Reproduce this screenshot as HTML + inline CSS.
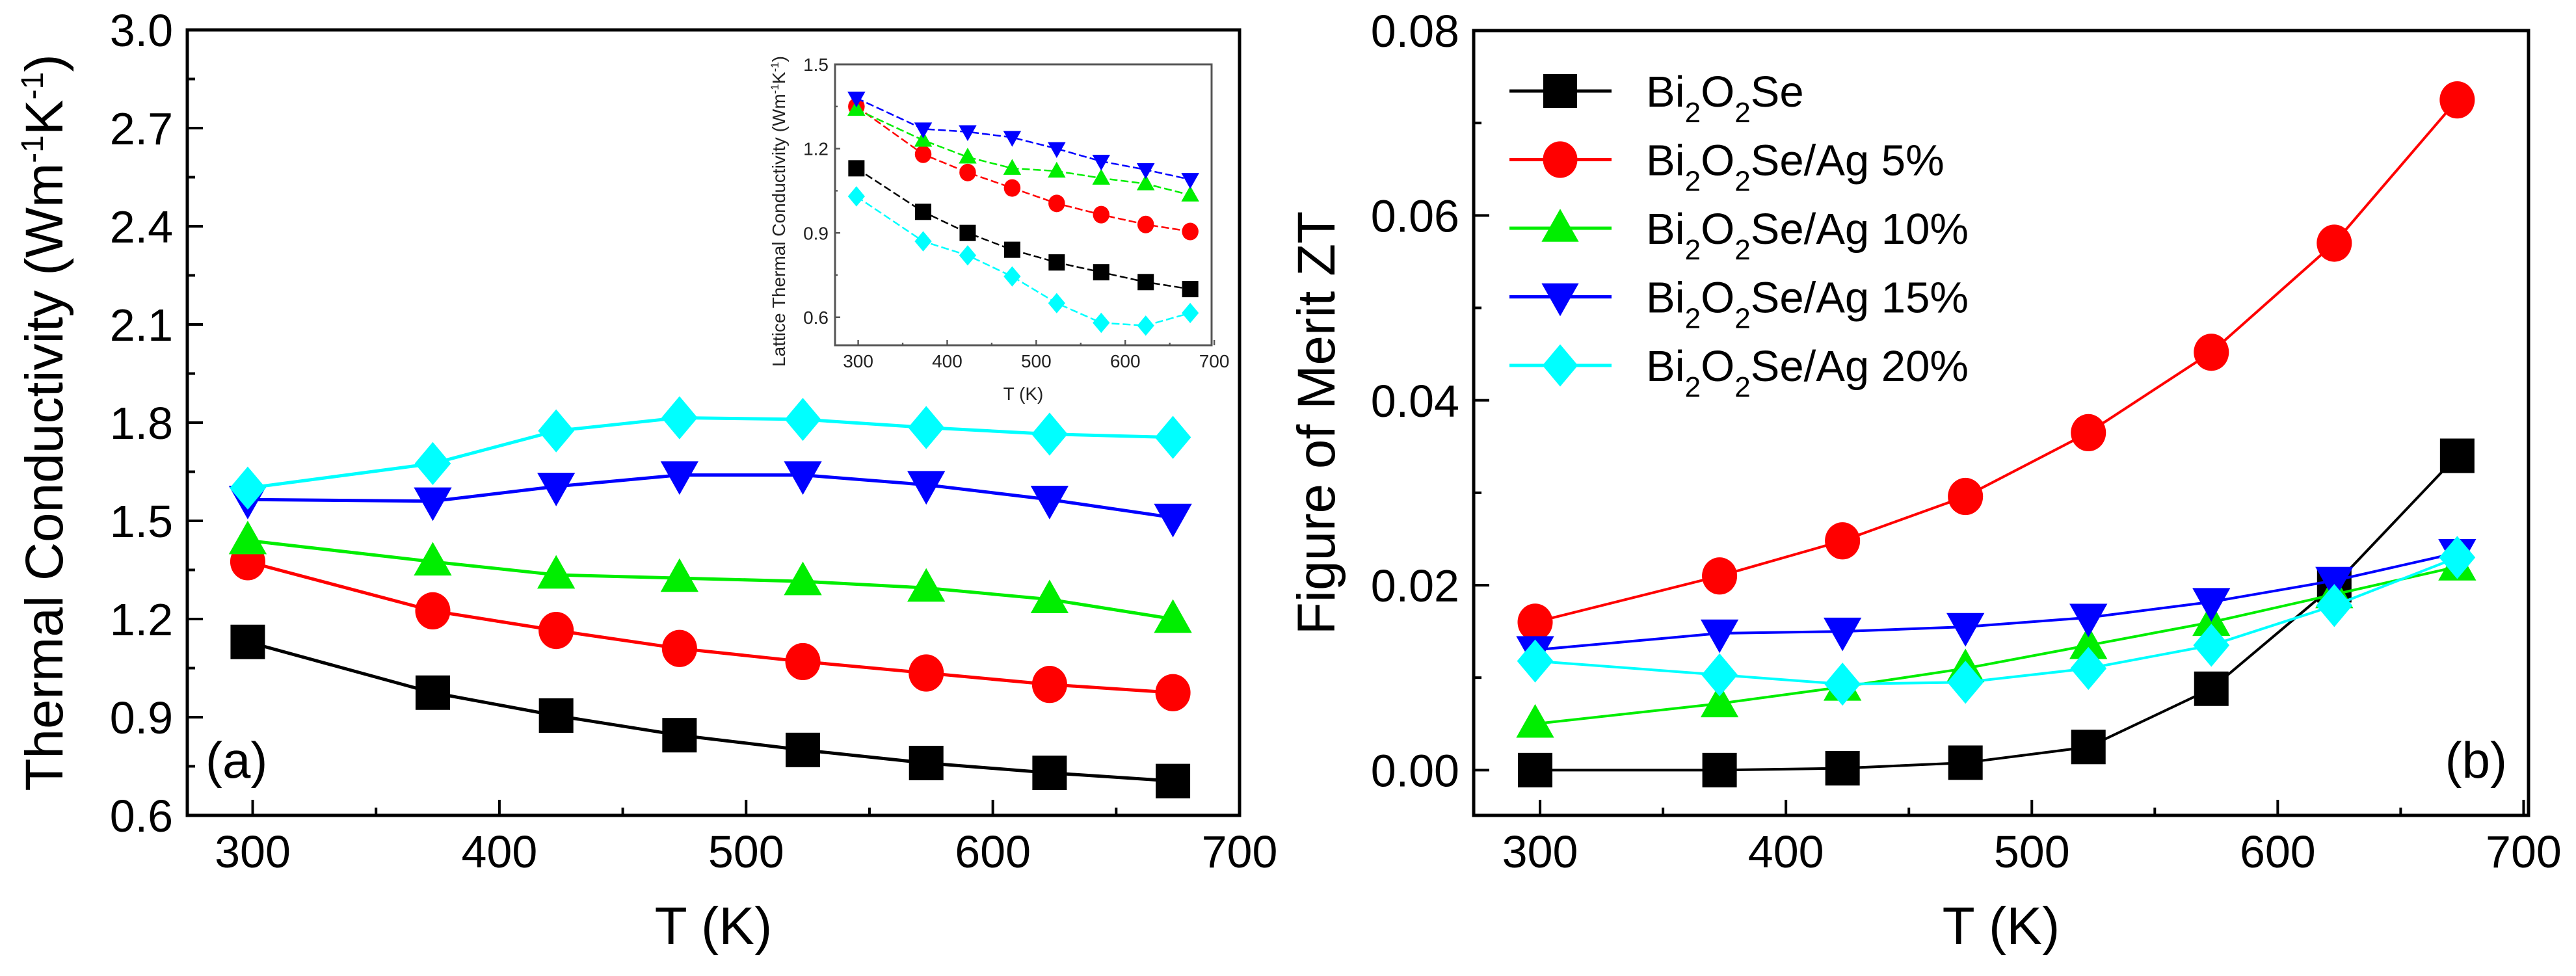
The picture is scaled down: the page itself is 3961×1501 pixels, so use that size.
<!DOCTYPE html>
<html><head><meta charset="utf-8"><style>
html,body{margin:0;padding:0;background:#fff;}
svg{display:block;font-family:"Liberation Sans",Arial,sans-serif;}
</style></head><body>
<svg id="fig" width="3961" height="1501" viewBox="0 0 3961 1501" xmlns="http://www.w3.org/2000/svg">
<g id="pa"></g>
<g id="pin"></g>
<g id="pb"></g>
</svg>
<script>
const temps = [298, 373, 423, 473, 523, 573, 623, 673];
const seriesNames = ["Bi2O2Se", "Bi2O2Se/Ag 5%", "Bi2O2Se/Ag 10%", "Bi2O2Se/Ag 15%", "Bi2O2Se/Ag 20%"];
const kappaBi = [1.13, 0.975, 0.905, 0.845, 0.80, 0.76, 0.73, 0.705];
const kappaAg5 = [1.375, 1.225, 1.165, 1.11, 1.07, 1.035, 1.0, 0.975];
const kappaAg10 = [1.44, 1.375, 1.335, 1.325, 1.315, 1.295, 1.26, 1.20];
const kappaAg15 = [1.565, 1.56, 1.605, 1.64, 1.64, 1.61, 1.565, 1.51];
const kappaAg20 = [1.60, 1.675, 1.775, 1.815, 1.81, 1.785, 1.765, 1.755];
const latBi = [1.13, 0.975, 0.90, 0.84, 0.795, 0.76, 0.725, 0.70];
const latAg5 = [1.35, 1.18, 1.115, 1.06, 1.005, 0.965, 0.93, 0.905];
const latAg10 = [1.34, 1.23, 1.17, 1.13, 1.12, 1.095, 1.075, 1.035];
const latAg15 = [1.38, 1.27, 1.26, 1.24, 1.20, 1.155, 1.125, 1.09];
const latAg20 = [1.03, 0.87, 0.82, 0.745, 0.65, 0.58, 0.57, 0.615];
const ztBi = [0, 0, 0.0002, 0.0008, 0.0025, 0.0088, 0.020, 0.034];
const ztAg5 = [0.016, 0.021, 0.0248, 0.0296, 0.0365, 0.0452, 0.057, 0.0725];
const ztAg10 = [0.005, 0.0072, 0.009, 0.011, 0.0135, 0.016, 0.019, 0.022];
const ztAg15 = [0.013, 0.0148, 0.015, 0.0155, 0.0165, 0.0182, 0.0205, 0.0235];
const ztAg20 = [0.0118, 0.0103, 0.0093, 0.0095, 0.011, 0.0135, 0.0178, 0.023];
const xTicks = [300, 400, 500, 600, 700];
const kappaTicks = [0.6, 0.9, 1.2, 1.5, 1.8, 2.1, 2.4, 2.7, 3.0];
const latTicks = [0.6, 0.9, 1.2, 1.5];
const ztTicks = [0.00, 0.02, 0.04, 0.06, 0.08];

const colors = ["#000000", "#ff0000", "#00ee00", "#0000ff", "#00ffff"];
const shapes = ["square", "circle", "up", "down", "diamond"];
const NS = "http://www.w3.org/2000/svg";

function mk(parent, tag, attrs, text) {
  const e = document.createElementNS(NS, tag);
  for (const k in attrs) e.setAttribute(k, attrs[k]);
  if (text !== undefined) e.textContent = text;
  parent.appendChild(e);
  return e;
}
function scale(d0, d1, r0, r1) { return v => r0 + (v - d0) * (r1 - r0) / (d1 - d0); }

function marker(g, shape, cx, cy, s, color) {
  const h = s / 2;
  let e;
  if (shape === "square") e = mk(g, "rect", {x: cx - h, y: cy - h, width: s, height: s, fill: color});
  else if (shape === "circle") e = mk(g, "ellipse", {cx: cx, cy: cy, rx: h * 1.02, ry: h * 1.08, fill: color});
  else if (shape === "up") e = mk(g, "polygon", {points: `${cx},${cy - h * 1.15} ${cx + h * 1.1},${cy + h * 0.8} ${cx - h * 1.1},${cy + h * 0.8}`, fill: color});
  else if (shape === "down") e = mk(g, "polygon", {points: `${cx},${cy + h * 1.15} ${cx + h * 1.1},${cy - h * 0.8} ${cx - h * 1.1},${cy - h * 0.8}`, fill: color});
  else e = mk(g, "polygon", {points: `${cx},${cy - h * 1.25} ${cx + h * 1.05},${cy} ${cx},${cy + h * 1.25} ${cx - h * 1.05},${cy}`, fill: color});
  return e;
}

function drawPanel(g, cfg) {
  const xs = scale(cfg.xd[0], cfg.xd[1], cfg.L, cfg.R);
  const ys = scale(cfg.yd[0], cfg.yd[1], cfg.B, cfg.T);
  cfg.series.forEach((vals, si) => {
    const sg = mk(g, "g", {});
    
    
    const pts = temps.map((t, i) => `${xs(t)},${ys(vals[i])}`).join(" ");
    const attrs = {points: pts, fill: "none", stroke: colors[si], "stroke-width": cfg.lw};
    if (cfg.dash) attrs["stroke-dasharray"] = cfg.dash;
    mk(sg, "polyline", attrs);
    temps.forEach((t, i) => {
      const m = marker(sg, shapes[si], xs(t), ys(vals[i]), cfg.ms, colors[si]);
      
      
    });
  });
  const fr = mk(g, "rect", {x: cfg.L, y: cfg.T, width: cfg.R - cfg.L, height: cfg.B - cfg.T, fill: "none", stroke: cfg.frameColor || "#000", "stroke-width": cfg.fw});
  
  
  const xg = mk(g, "g", {});
  
  
  xTicks.forEach((t, i) => {
    const x = xs(t);
    mk(xg, "line", {x1: x, x2: x, y1: cfg.B, y2: cfg.B - cfg.tl, stroke: cfg.frameColor || "#000", "stroke-width": cfg.fw * 0.8});
    if (i < xTicks.length - 1) {
      const xm = xs(t + 50);
      mk(xg, "line", {x1: xm, x2: xm, y1: cfg.B, y2: cfg.B - cfg.tl / 2, stroke: cfg.frameColor || "#000", "stroke-width": cfg.fw * 0.8});
    }
    const tl = mk(xg, "text", {x: x, y: cfg.B + cfg.xlOff, "font-size": cfg.fs, "text-anchor": "middle", fill: cfg.textColor || "#000"}, String(t));
    
    
  });
  const yg = mk(g, "g", {});
  
  
  cfg.yTicks.forEach((v, i) => {
    const y = ys(v);
    mk(yg, "line", {x1: cfg.L, x2: cfg.L + cfg.tl, y1: y, y2: y, stroke: cfg.frameColor || "#000", "stroke-width": cfg.fw * 0.8});
    if (i < cfg.yTicks.length - 1) {
      const ym = ys((v + cfg.yTicks[i + 1]) / 2);
      mk(yg, "line", {x1: cfg.L, x2: cfg.L + cfg.tl / 2, y1: ym, y2: ym, stroke: cfg.frameColor || "#000", "stroke-width": cfg.fw * 0.8});
    }
    const tl = mk(yg, "text", {x: cfg.L - cfg.ylOff, y: y + cfg.fs * 0.36, "font-size": cfg.fs, "text-anchor": "end", fill: cfg.textColor || "#000"}, v.toFixed(cfg.dec));
    
    
  });
  const xt = mk(g, "text", {x: (cfg.L + cfg.R) / 2, y: cfg.xtY, "font-size": cfg.tfs, "text-anchor": "middle", fill: cfg.textColor || "#000"}, "T (K)");
  
  
  const yt = mk(g, "text", {x: 0, y: 0, "font-size": cfg.tfs, "text-anchor": "middle", transform: `translate(${cfg.ytX},${(cfg.T + cfg.B) / 2 + (cfg.ytShift || 0)}) rotate(-90)`, fill: cfg.textColor || "#000"});
  
  
  cfg.yTitle(yt);
}

function tspan(p, txt, attrs) { return mk(p, "tspan", attrs || {}, txt); }

drawPanel(document.getElementById("pa"), {
  L: 288, R: 1906, T: 46, B: 1254, xd: [273.5, 700], yd: [0.6, 3.0],
  series: [kappaBi, kappaAg5, kappaAg10, kappaAg15, kappaAg20],
  yTicks: kappaTicks, dec: 1, ms: 53, lw: 5, fw: 5, tl: 24, fs: 70, tfs: 82,
  xlOff: 80, ylOff: 22, xtY: 1452, ytX: 96,
  yTitle: t => { tspan(t, "Thermal Conductivity (Wm"); tspan(t, "-1", {"font-size": 48, dy: -30}); tspan(t, "K", {dy: 30}); tspan(t, "-1", {"font-size": 48, dy: -30}); tspan(t, ")", {dy: 30}); }
});
drawPanel(document.getElementById("pin"), {
  L: 1284, R: 1863, T: 99, B: 531, xd: [274, 697], yd: [0.5, 1.5],
  series: [latBi, latAg5, latAg10, latAg15, latAg20],
  yTicks: latTicks, dec: 1, ms: 25, lw: 2.5, fw: 3, tl: 8, fs: 28, tfs: 28, dash: "12,5",
  frameColor: "#555", textColor: "#222",
  xlOff: 34, ylOff: 10, xtY: 615, ytX: 1207, ytShift: 10,
  yTitle: t => { tspan(t, "Lattice Thermal Conductivity (Wm"); tspan(t, "-1", {"font-size": 17, dy: -10}); tspan(t, "K", {dy: 10}); tspan(t, "-1", {"font-size": 17, dy: -10}); tspan(t, ")", {dy: 10}); }
});
drawPanel(document.getElementById("pb"), {
  L: 2266, R: 3888, T: 47, B: 1254, xd: [273, 702], yd: [-0.0049, 0.08],
  series: [ztBi, ztAg5, ztAg10, ztAg15, ztAg20],
  yTicks: ztTicks, dec: 2, ms: 53, lw: 4, fw: 5, tl: 24, fs: 70, tfs: 82,
  xlOff: 80, ylOff: 22, xtY: 1452, ytX: 2052,
  yTitle: t => { tspan(t, "Figure of Merit ZT"); }
});

const la = mk(document.getElementById("pa"), "text", {x: 316, y: 1196, "font-size": 78}, "(a)");


const lb = mk(document.getElementById("pb"), "text", {x: 3855, y: 1196, "font-size": 78, "text-anchor": "end"}, "(b)");



const lg = mk(document.getElementById("pb"), "g", {});


const legendSuffix = ["", "/Ag 5%", "/Ag 10%", "/Ag 15%", "/Ag 20%"];
seriesNames.forEach((n, i) => {
  const y = 140 + i * 105.5;
  const eg = mk(lg, "g", {});
  
  
  mk(eg, "line", {x1: 2321, x2: 2478, y1: y, y2: y, stroke: colors[i], "stroke-width": 5});
  marker(eg, shapes[i], 2399, y, 52, colors[i]);
  const t = mk(eg, "text", {x: 2531, y: y + 24, "font-size": 67});
  tspan(t, "Bi"); tspan(t, "2", {"font-size": 44, dy: 24}); tspan(t, "O", {dy: -24}); tspan(t, "2", {"font-size": 44, dy: 24}); tspan(t, "Se" + legendSuffix[i], {dy: -24});
});
</script>
</body></html>
